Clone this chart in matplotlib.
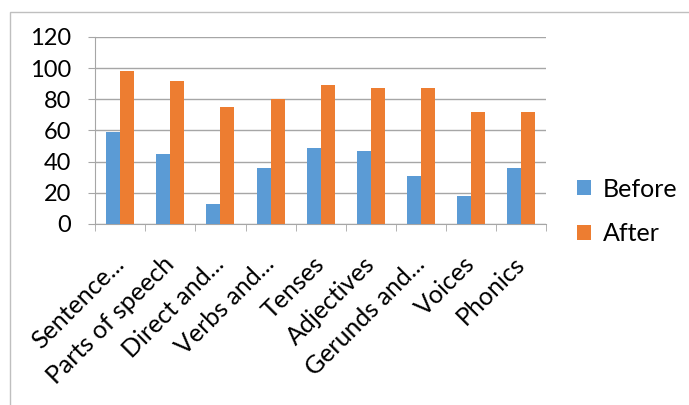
import numpy as np
import matplotlib.pyplot as plt
from matplotlib.patches import Rectangle

plt.rcParams['font.family'] = ['Lato', 'DejaVu Sans']

categories = ["Sentence...", "Parts of speech", "Direct and...", "Verbs and...",
              "Tenses", "Adjectives", "Gerunds and...", "Voices", "Phonics"]
before = [59, 45, 13, 36, 49, 47, 31, 18, 36]
after = [98, 92, 75, 80, 89, 87, 87, 72, 72]

fig = plt.figure(figsize=(6.89, 4.05), dpi=100)
ax = fig.add_axes([0.138, 0.447, 0.655, 0.462])

x = np.arange(len(categories))
w = 0.28
ax.bar(x - w/2, before, w, color='#5B9BD5', label='Before', zorder=3)
ax.bar(x + w/2, after, w, color='#ED7D31', label='After', zorder=3)

ax.set_xlim(-0.5, len(categories) - 0.5)
ax.set_ylim(0, 120)
ax.set_yticks(range(0, 121, 20))
ax.yaxis.grid(True, color='#a6a6a6', lw=1, zorder=0)
for s in ['top', 'right']:
    ax.spines[s].set_visible(False)
ax.spines['bottom'].set_color('#a6a6a6')
ax.spines['left'].set_color('#a6a6a6')
ax.tick_params(axis='y', length=5, color='#a6a6a6', labelsize=17, pad=12)
ax.set_xticks(x)
ax.set_xticklabels(categories, rotation=45, ha='right', va='center',
                   rotation_mode='anchor', fontsize=18)
ax.tick_params(axis='x', which='major', length=0, pad=26)
ax.set_xticks(np.arange(-0.5, len(categories)), minor=True)
ax.tick_params(axis='x', which='minor', length=5, color='#a6a6a6')

ax.legend(loc='center left', bbox_to_anchor=(0.82, 0.478), bbox_transform=fig.transFigure,
          frameon=False, borderpad=0, fontsize=18, handlelength=0.55, handleheight=0.55,
          labelspacing=0.85, handletextpad=0.45)

fig.patches.append(Rectangle((0.0145, -0.1), 1.2, 1.07, transform=fig.transFigure,
                             fill=False, edgecolor='#bfbfbf', lw=1))

fig.savefig('out.png', dpi=100)
